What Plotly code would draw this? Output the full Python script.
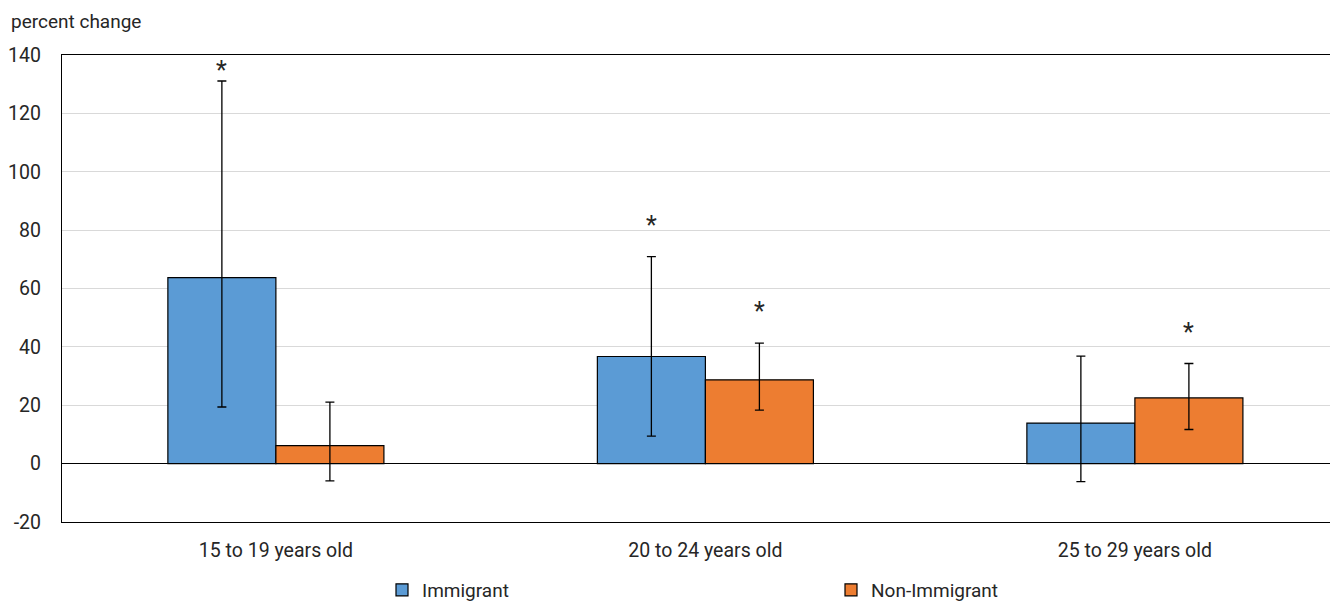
import plotly.graph_objects as go

categories = ["15 to 19 years old", "20 to 24 years old", "25 to 29 years old"]
series_names = ["Immigrant", "Non-Immigrant"]
immigrant = [63.7, 36.7, 13.9]
immigrant_hi = [131.1, 70.9, 36.8]
immigrant_lo = [19.4, 9.4, -6.2]
non_immigrant = [6.2, 28.7, 22.5]
non_immigrant_hi = [21.1, 41.3, 34.3]
non_immigrant_lo = [-5.9, 18.3, 11.7]
immigrant_sig = [True, True, False]
non_immigrant_sig = [False, True, True]
y_ticks = [-20, 0, 20, 40, 60, 80, 100, 120, 140]
y_tick_labels = ["-20", "0", "20", "40", "60", "80", "100", "120", "140"]

FONT = "Roboto, Arial, sans-serif"
TXT = "#262626"
colors = ["#5B9BD5", "#ED7D31"]

# page body has an 8px offset; compensate so the figure fills the window
W, H = 1330, 594
ML, MR, MT, MB = 54, 0, 47, 80
xidx = list(range(len(categories)))
pw = W - ML - MR
ph = H - MT - MB

fig = go.Figure()
series = [
    (immigrant, immigrant_hi, immigrant_lo),
    (non_immigrant, non_immigrant_hi, non_immigrant_lo),
]
for name, (vals, hi, lo), col in zip(series_names, series, colors):
    fig.add_trace(go.Bar(
        x=xidx, y=vals, name=name,
        marker=dict(color=col, line=dict(color="black", width=1.2)),
        error_y=dict(
            type="data", symmetric=False,
            array=[h - v for h, v in zip(hi, vals)],
            arrayminus=[v - l for v, l in zip(vals, lo)],
            color="black", thickness=1.3, width=4.5,
        ),
    ))

bar_gap = 0.497
half = (1 - bar_gap) / 4  # offset of each bar centre from category centre
annotations = []
for sig, hi, sign in [(immigrant_sig, immigrant_hi, -1), (non_immigrant_sig, non_immigrant_hi, 1)]:
    for i, (s, h) in enumerate(zip(sig, hi)):
        if s:
            annotations.append(dict(
                x=i + sign * half, y=min(h + 11, 135), xref="x", yref="y",
                text="*", showarrow=False, yanchor="middle", yshift=-1,
                font=dict(family=FONT, size=25, color=TXT),
            ))

annotations.append(dict(
    x=(1 - ML) / pw, y=1 + (MT - 14) / ph, xref="paper", yref="paper",
    text="percent change", showarrow=False, xanchor="left", yanchor="middle",
    font=dict(family=FONT, size=19, color=TXT),
))

fig.update_layout(
    width=W, height=H,
    margin=dict(l=ML, r=MR, t=MT, b=MB),
    paper_bgcolor="white", plot_bgcolor="white",
    barmode="group", bargap=bar_gap, bargroupgap=0,
    font=dict(family=FONT, size=19.5, color=TXT),
    showlegend=True,
    legend=dict(
        orientation="h", xref="container", yref="container",
        x=374 / W, xanchor="left", y=1 - 582 / H, yanchor="middle",
        entrywidth=404, entrywidthmode="pixels",
        font=dict(family=FONT, size=19, color=TXT),
        itemwidth=30, traceorder="normal",
    ),
    annotations=annotations,
    xaxis=dict(
        tickmode="array", tickvals=xidx, ticktext=categories,
        range=[-0.498, -0.498 + pw / 429.5],
        showline=True, linecolor="black", linewidth=1.3, mirror=True,
        showgrid=False, zeroline=False, ticks="",
        ticklabelstandoff=10,
        tickfont=dict(family=FONT, size=19.5, color=TXT),
    ),
    yaxis=dict(
        range=[-20, 140], tickmode="array", tickvals=y_ticks, ticktext=y_tick_labels,
        showline=True, linecolor="black", linewidth=1.3, mirror=False,
        showgrid=True, gridcolor="#d9d9d9", gridwidth=1,
        zeroline=True, zerolinecolor="black", zerolinewidth=1.3,
        ticks="", ticklabelstandoff=16,
        tickfont=dict(family=FONT, size=19.5, color=TXT),
    ),
)

fig.write_html("out.html")
